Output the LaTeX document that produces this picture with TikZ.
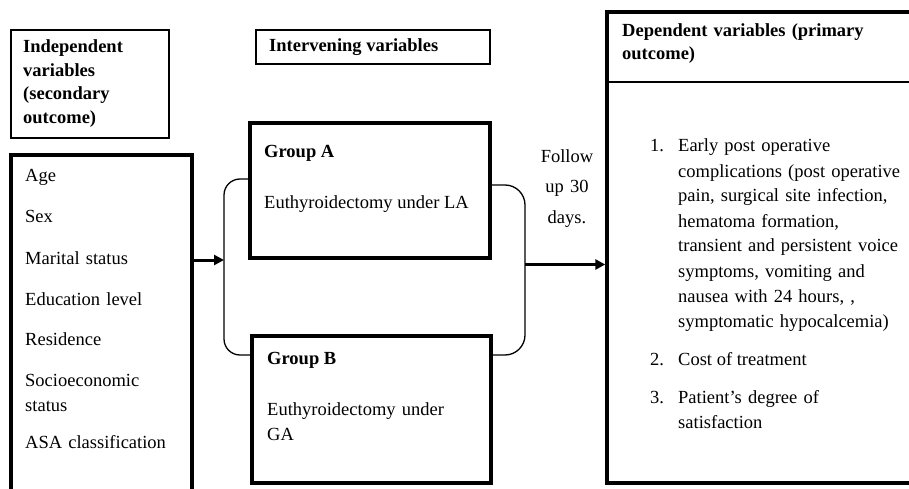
\documentclass[tikz,border=0pt]{standalone}
\usepackage{fontspec}
\setmainfont{Liberation Serif}
\usetikzlibrary{arrows.meta}
\tikzset{
  varbox/.style={draw, line width=1.4pt, inner sep=0pt},
  grpbox/.style={draw, line width=3.4pt, inner sep=0pt},
  lbl/.style={inner sep=0pt, anchor=base west, align=left, font=\fontsize{18.5}{25}\selectfont},
  hlbl/.style={lbl, font=\fontsize{18.5}{23.5}\selectfont\bfseries},
  wire/.style={-{Triangle[length=10pt,width=10pt]}, line width=3pt},
  bracket/.style={line width=1.3pt, rounded corners=16pt}
}

\begin{document}
\begin{tikzpicture}[x=1pt, y=-1pt]
  \useasboundingbox (0,0) rectangle (909,489);
  \clip (0,0) rectangle (909,489);
  % boxes
  \node[varbox, minimum width=158pt, minimum height=108pt] (indephdbox) at (90,84) {};
  \node[grpbox, minimum width=181pt, minimum height=365pt] (indepbox) at (101.5,337.5) {};
  \node[varbox, minimum width=234pt, minimum height=34pt] (intervbox) at (373,47) {};
  \node[grpbox, minimum width=240pt, minimum height=135pt] (grpA) at (370,190.5) {};
  \node[grpbox, minimum width=239pt, minimum height=147pt] (grpB) at (371.5,409.5) {};
  \node[grpbox, minimum width=343pt, minimum height=471pt] (depbox) at (778.5,247.5) {};
  \coordinate (hdrline) at (0,82);
  \draw[line width=1.6pt] (depbox.west |- hdrline) -- (depbox.east |- hdrline);
  % headings
  \node[hlbl, text width=150pt] (indephead) at (23,53) {Independent\\variables\\(secondary\\outcome)};
  \node[hlbl] (intervhead) at (269,52) {Intervening variables};
  \node[hlbl, text width=280pt] (dephead) at (622,36.5) {Dependent variables (primary\\outcome)};
  % independent variables
  \foreach \name/\yy/\txt in {age/182/Age, sex/222.7/Sex, marital/264/Marital status,
      educ/305/Education level, resid/345/Residence,
      socio/386.7/{Socioeconomic\\status}, asa/448/ASA classification}
    \node[lbl, text width=160pt] (\name) at (25,\yy) {\txt};
  % groups
  \node[hlbl] (grpAtitle) at (264,157.5) {Group A};
  \node[lbl] (grpAtext) at (264,208.5) {Euthyroidectomy under LA};
  \node[hlbl] (grpBtitle) at (267,364) {Group B};
  \node[lbl, text width=200pt] (grpBtext) at (267,415.5) {Euthyroidectomy under\\GA};
  % joins and arrows
  \coordinate (jin) at (224,260);
  \coordinate (jout) at (525,264.5);
  \draw[bracket] (grpA.west |- 0,179) -| (jin) |- (grpB.west |- 0,355);
  \draw[bracket, rounded corners=20pt] (grpA.east |- 0,185) -| (jout) |- (grpB.east |- 0,355);
  \draw[wire] (indepbox.east |- jin) -- (jin);
  \draw[wire] (jout) -- (jout -| depbox.west);
  \node[lbl, anchor=base, text width=80pt, align=center, font=\fontsize{18.5}{30.5}\selectfont] (follow) at (567,162.5) {Follow\\up 30\\days.};
  % dependent variables
  \node[lbl] (num1) at (650,152) {1.};
  \node[lbl, text width=235pt] (item1) at (678,152) {Early post operative\\complications (post operative\\pain, surgical site infection,\\hematoma formation,\\transient and persistent voice\\symptoms, vomiting and\\nausea with 24 hours, ,\\symptomatic hypocalcemia)};
  \node[lbl] (num2) at (650,365.5) {2.};
  \node[lbl] (item2) at (678,365.5) {Cost of treatment};
  \node[lbl] (num3) at (650,403) {3.};
  \node[lbl, text width=235pt] (item3) at (678,403) {Patient's degree of\\satisfaction};
\end{tikzpicture}
\end{document}
